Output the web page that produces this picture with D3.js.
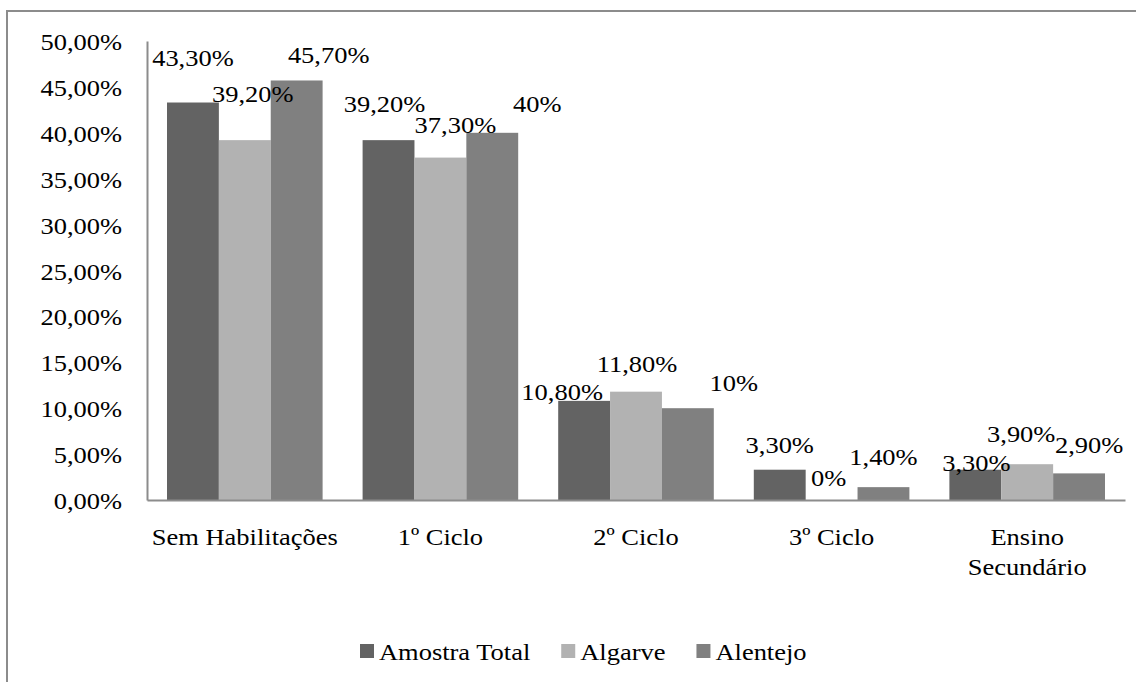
<!DOCTYPE html>
<html>
<head>
<meta charset="utf-8">
<script src="https://cdn.jsdelivr.net/npm/d3@7/dist/d3.min.js"></script>
<style>
  html, body { margin: 0; padding: 0; background: #fff; }
</style>
</head>
<body>
<svg id="chart" width="1136" height="682"></svg>
<script>
// Habilitações literárias por região
const categories = ["Sem Habilitações", "1º Ciclo", "2º Ciclo", "3º Ciclo", "Ensino Secundário"];
const seriesNames = ["Amostra Total", "Algarve", "Alentejo"];
const amostraTotal = [43.3, 39.2, 10.8, 3.3, 3.3];
const algarve      = [39.2, 37.3, 11.8, 0.0, 3.9];
const alentejo     = [45.7, 40.0, 10.0, 1.4, 2.9];
const valueLabels = [
  ["43,30%", "39,20%", "10,80%", "3,30%", "3,30%"],
  ["39,20%", "37,30%", "11,80%", "0%",    "3,90%"],
  ["45,70%", "40%",    "10%",    "1,40%", "2,90%"]
];
const yTicks = [0, 5, 10, 15, 20, 25, 30, 35, 40, 45, 50];
const yTickLabels = ["0,00%", "5,00%", "10,00%", "15,00%", "20,00%", "25,00%",
                     "30,00%", "35,00%", "40,00%", "45,00%", "50,00%"];

// Manual placement of the value labels (dx from bar centre, dy from bar top)
const labelNudge = [
  [[0, -37], [-4, -28], [-22, -1], [0, -17], [1, 1]],
  [[8, -38], [15, -25], [1, -20], [-3, -14], [-6, -22]],
  [[32, -17], [45, -21], [46, -17], [0, -22], [10, -20]]
];

const seriesValues = [amostraTotal, algarve, alentejo];
const colors = ["#636363", "#b2b2b2", "#808080"];
const FONT = 24;

// pick the first installed serif face
function pickFamily(cands) {
  const ctx = document.createElement("canvas").getContext("2d");
  const probe = "Sem Habilitações 0123456789 mmmwwwiii";
  ctx.font = "40px monospace"; const wMono = ctx.measureText(probe).width;
  ctx.font = "40px sans-serif"; const wSans = ctx.measureText(probe).width;
  for (const c of cands) {
    ctx.font = `40px "${c}", monospace`; const a = ctx.measureText(probe).width;
    ctx.font = `40px "${c}", sans-serif`; const b = ctx.measureText(probe).width;
    if (a !== wMono || b !== wSans) return `"${c}"`;
  }
  return "serif";
}
const FAMILY = pickFamily(["Liberation Serif", "Times New Roman", "Tinos", "Times", "Nimbus Roman", "DejaVu Serif", "Noto Serif"]) + ", serif";

// horizontal stretch so that text widths follow the layout
const measureCtx = document.createElement("canvas").getContext("2d");
measureCtx.font = `${FONT}px ${FAMILY}`;
const SX = 186 / measureCtx.measureText("Sem Habilitações").width;

const svg = d3.select("#chart");

// outer frame
svg.append("rect")
  .attr("x", 7).attr("y", 11)
  .attr("width", 1160).attr("height", 700)
  .attr("fill", "none")
  .attr("stroke", "#8c8c8c")
  .attr("stroke-width", 2);

const plot = { left: 147, right: 1125, top: 41, bottom: 500 };

const x0 = d3.scaleBand().domain(categories).range([plot.left, plot.right]).padding(0);
const x1 = d3.scaleBand().domain(seriesNames)
  .range([20, x0.bandwidth() - 20]).padding(0);
const y = d3.scaleLinear().domain([0, 50]).range([plot.bottom, plot.top]);

function styleText(sel) {
  return sel.attr("font-family", FAMILY)
    .style("font-family", FAMILY)
    .style("font-size", FONT + "px")
    .attr("fill", "#000");
}
function stretched(sel, xPos, yPos) {
  return sel.attr("transform", `translate(${xPos},${yPos}) scale(${SX},1)`);
}

// bars
const groups = svg.append("g").selectAll("g")
  .data(categories)
  .join("g")
  .attr("transform", d => `translate(${x0(d)},0)`);

seriesNames.forEach((s, si) => {
  groups.append("rect")
    .attr("x", x1(s))
    .attr("width", x1.bandwidth())
    .attr("y", (d, ci) => y(seriesValues[si][ci]))
    .attr("height", (d, ci) => y(0) - y(seriesValues[si][ci]))
    .attr("fill", colors[si]);
});

// y axis
const yAxis = svg.append("g")
  .attr("transform", `translate(${plot.left},0)`)
  .call(d3.axisLeft(y).tickValues(yTicks)
    .tickFormat((d, i) => yTickLabels[i]).tickSize(0).tickSizeOuter(0));
yAxis.attr("font-family", null).attr("font-size", null);
yAxis.select(".domain").attr("stroke", "#8c8c8c").attr("stroke-width", 2);
yAxis.selectAll(".tick text")
  .attr("x", null).attr("dy", null)
  .attr("transform", `translate(-25,8.5) scale(${SX},1)`)
  .attr("text-anchor", "end")
  .call(styleText);

// x axis
const xAxis = svg.append("g")
  .attr("transform", `translate(0,${plot.bottom})`)
  .call(d3.axisBottom(x0).tickSize(0).tickSizeOuter(0));
xAxis.attr("font-family", null).attr("font-size", null);
xAxis.select(".domain").attr("stroke", "#8c8c8c").attr("stroke-width", 2);
xAxis.selectAll(".tick text").each(function (d) {
  const t = d3.select(this);
  t.attr("y", null).attr("dy", null)
    .attr("transform", `translate(0,45) scale(${SX},1)`)
    .attr("text-anchor", "middle")
    .call(styleText);
  // wrap labels wider than the category band
  t.text(d);
  const lines = this.getComputedTextLength() * SX > x0.bandwidth() ? d.split(" ") : [d];
  t.text(null);
  lines.forEach((ln, i) => {
    t.append("tspan").attr("x", 0).attr("y", i * 30).text(ln);
  });
});

// value labels
seriesNames.forEach((s, si) => {
  categories.forEach((c, ci) => {
    const v = seriesValues[si][ci];
    const cx = x0(c) + x1(s) + x1.bandwidth() / 2 + labelNudge[si][ci][0];
    const cy = y(v) + labelNudge[si][ci][1];
    svg.append("text")
      .call(stretched, cx, cy)
      .attr("text-anchor", "middle")
      .call(styleText)
      .text(valueLabels[si][ci]);
  });
});

// legend
const legend = svg.append("g");
let lx = 360;
seriesNames.forEach((s, si) => {
  legend.append("rect")
    .attr("x", lx).attr("y", 644)
    .attr("width", 14).attr("height", 14)
    .attr("fill", colors[si]);
  const t = legend.append("text")
    .call(stretched, lx + 19, 660)
    .call(styleText)
    .text(s);
  lx += 19 + t.node().getComputedTextLength() * SX + 31;
});
</script>
</body>
</html>
